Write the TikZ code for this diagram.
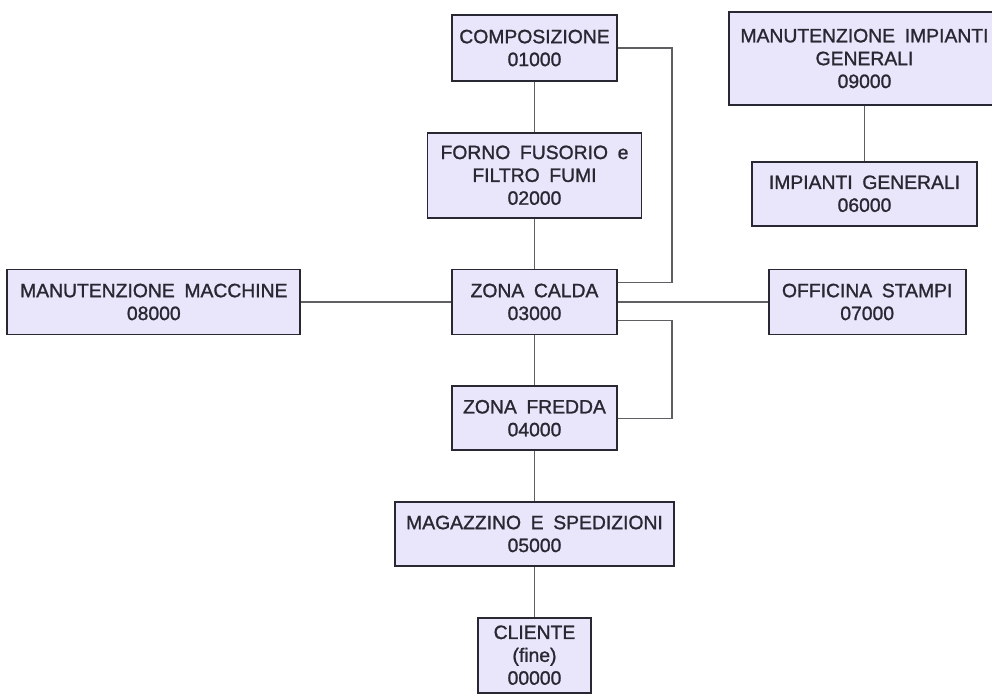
\documentclass[tikz,border=0pt]{standalone}
\usepackage{fontspec}
\setmainfont[WordSpace=1.8,FakeBold=1.2]{Liberation Sans}
\usetikzlibrary{positioning}
\definecolor{boxfill}{RGB}{233,229,250}
\definecolor{boxline}{RGB}{40,40,50}
\definecolor{linkline}{RGB}{95,95,100}

\begin{document}
\begin{tikzpicture}[x=0.02cm,y=-0.02cm,node distance=1cm and 3cm,
                    dept node/.style={rectangle,draw=boxline,fill=boxfill,line width=1pt,
                      align=center,text=boxline,inner sep=2pt,font=\fontsize{11}{13}\selectfont},
                    link/.style={draw=linkline,line width=0.6pt}]
  \useasboundingbox (0,0) rectangle (992,698);

  % main line
  \node[dept node,minimum width=3.3cm,minimum height=1.32cm] (compo) at (534.5,48) {COMPOSIZIONE\\01000};
  \node[dept node,minimum width=4.28cm,minimum height=1.7cm,below=of compo] (forno) {FORNO FUSORIO e\\FILTRO FUMI\\02000};
  \node[dept node,minimum width=3.3cm,minimum height=1.3cm,below=of forno] (calda) {ZONA CALDA\\03000};
  \node[dept node,minimum width=3.3cm,minimum height=1.28cm,below=of calda] (fredda) {ZONA FREDDA\\04000};
  \node[dept node,minimum width=5.58cm,minimum height=1.28cm,below=of fredda] (magaz) {MAGAZZINO E SPEDIZIONI\\05000};
  \node[dept node,minimum width=2.26cm,minimum height=1.5cm,below=of magaz] (cliente) {CLIENTE\\(fine)\\00000};

  % side departments
  \node[dept node,minimum width=5.86cm,minimum height=1.3cm,left=of calda] (macch) {MANUTENZIONE MACCHINE\\08000};
  \node[dept node,minimum width=3.94cm,minimum height=1.3cm,right=of calda] (officina) {OFFICINA STAMPI\\07000};
  \node[dept node,minimum width=5.42cm,minimum height=1.86cm] (manimp) at (864.5,58.5) {MANUTENZIONE IMPIANTI\\GENERALI\\09000};
  \node[dept node,minimum width=4.5cm,minimum height=1.28cm,below=1.1cm of manimp] (impgen) {IMPIANTI GENERALI\\06000};

  \coordinate (bus1) at (672,200);
  \coordinate (bus2) at (672,380);

  \path[link]
    (compo) edge (forno)
    (forno) edge (calda)
    (calda) edge (fredda)
    (fredda) edge (magaz)
    (magaz) edge (cliente)
    (macch) edge (calda)
    (calda) edge (officina)
    (manimp) edge (impgen);
  \draw[link] (compo.east) -| (bus1) |- ([yshift=0.39cm]calda.east);
  \draw[link] ([yshift=-0.37cm]calda.east) -| (bus2) |- (fredda.east);
\end{tikzpicture}
\end{document}
